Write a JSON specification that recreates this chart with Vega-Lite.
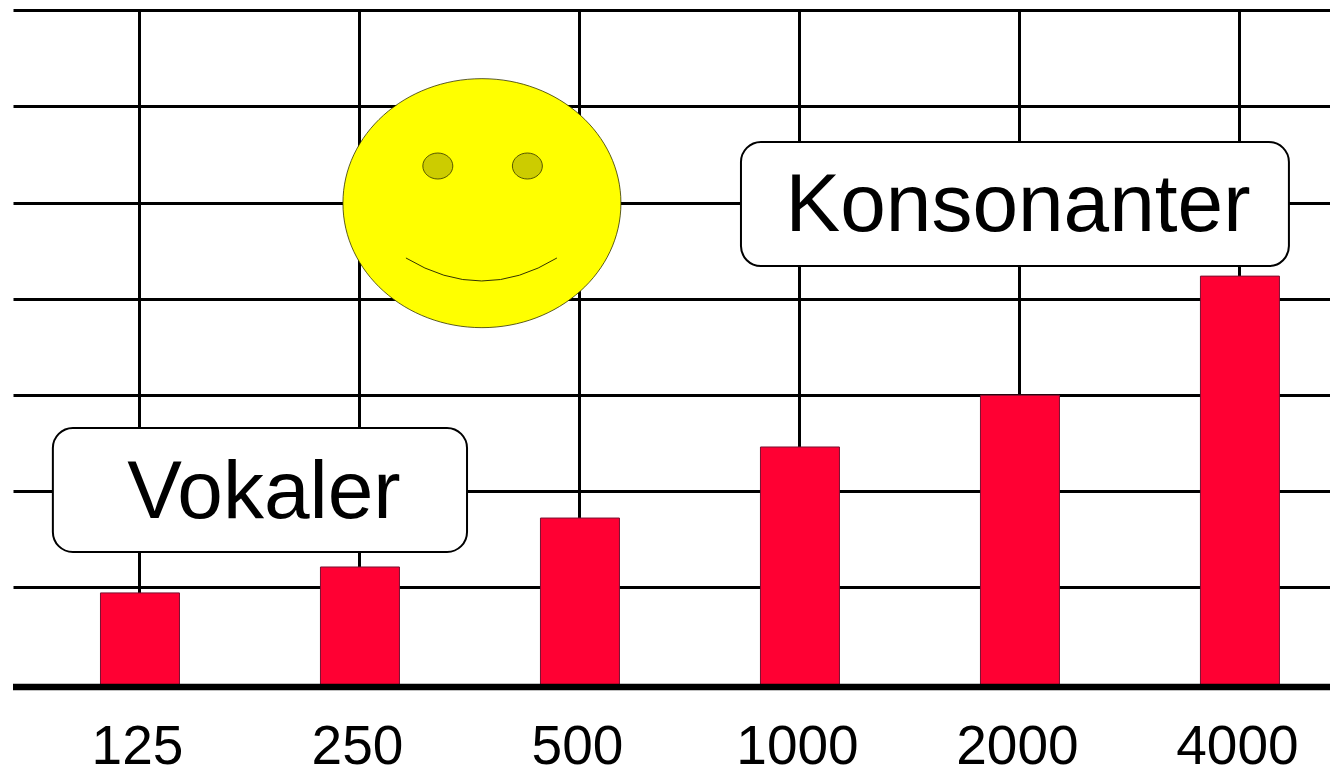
{
  "$schema": "https://vega.github.io/schema/vega-lite/v6.json",
  "width": 1317,
  "height": 677,
  "autosize": {"type": "none"},
  "padding": {"left": 13, "top": 10, "right": 0, "bottom": 85},
  "background": "white",
  "config": {"view": {"stroke": null}},
  "encoding": {
    "x": {
      "field": "freq", "type": "quantitative",
      "scale": {"type": "log", "base": 2, "domain": [84.05, 5329], "nice": false, "padding": 0},
      "axis": {
        "values": [125, 250, 500, 1000, 2000, 4000], "format": "d", "title": null,
        "grid": true, "gridColor": "#000000", "gridWidth": 3, "gridOpacity": 1,
        "ticks": false, "domain": false, "labelFont": "Liberation Sans", "labelFontSize": 55,
        "labelColor": "#000000", "labelPadding": 33, "labelOffset": -2, "labelOverlap": false, "labelBound": false, "labelFlush": false
      }
    },
    "y": {
      "field": "level", "type": "quantitative",
      "scale": {"domain": [0, 70.52], "nice": false},
      "axis": {
        "values": [10.42, 20.42, 30.42, 40.42, 50.42, 60.52, 70.52], "title": null,
        "grid": true, "gridColor": "#000000", "gridWidth": 3, "gridOpacity": 1,
        "ticks": false, "domain": false, "labels": false
      }
    }
  },
  "layer": [
    {
      "data": {"values": [
        {"freq": 125, "level": 9.8},
        {"freq": 250, "level": 12.5},
        {"freq": 500, "level": 17.6},
        {"freq": 1000, "level": 25},
        {"freq": 2000, "level": 30.4},
        {"freq": 4000, "level": 42.8}
      ]},
      "mark": {"type": "bar", "orient": "vertical", "size": 79, "xOffset": 1, "fill": "#ff0033", "stroke": "#7a1030", "strokeWidth": 1},
      "encoding": {"y": {"field": "level", "type": "quantitative", "stack": null}}
    },
    {
      "data": {"values": [{"level": 0}]},
      "mark": {"type": "rule", "color": "#000000", "strokeWidth": 6.5},
      "encoding": {"x": {"value": 0}, "x2": {"value": 1317}}
    },
    {
      "data": {"values": [
        {"label": "Vokaler", "freq": 95.3, "freq2": 351.4, "level": 26.98, "level2": 14.06},
        {"label": "Konsonanter", "freq": 833, "freq2": 4682, "level": 56.77, "level2": 43.85}
      ]},
      "mark": {"type": "rect", "fill": "#ffffff", "stroke": "#000000", "strokeWidth": 2, "cornerRadius": 20},
      "encoding": {"x2": {"field": "freq2"}, "y2": {"field": "level2"}}
    },
    {
      "data": {"values": [
        {"label": "Vokaler", "freq": 185.3, "level": 20.42},
        {"label": "Konsonanter", "freq": 1994, "level": 50.3}
      ]},
      "mark": {"type": "text", "font": "Liberation Sans", "fontSize": 82, "color": "#000000", "align": "center", "baseline": "middle", "dy": 2},
      "encoding": {"text": {"field": "label"}}
    },
    {
      "data": {"values": [{"part": "face", "freq": 368.3, "level": 50.4}]},
      "mark": {"type": "point", "filled": true, "size": 4, "fill": "#ffff00", "fillOpacity": 1, "opacity": 1, "stroke": "#333300", "strokeWidth": 0.8,
        "shape": "M-139,0 A139,124.5 0 1,0 139,0 A139,124.5 0 1,0 -139,0 Z"}
    },
    {
      "data": {"values": [
        {"part": "left eye", "freq": 320.5, "level": 54.27},
        {"part": "right eye", "freq": 425, "level": 54.27}
      ]},
      "mark": {"type": "point", "filled": true, "size": 4, "fill": "#cccc00", "fillOpacity": 1, "opacity": 1, "stroke": "#333300", "strokeWidth": 0.8,
        "shape": "M-15,0 A15,13 0 1,0 15,0 A15,13 0 1,0 -15,0 Z"}
    },
    {
      "data": {"values": [{"part": "smile", "freq": 368.3, "level": 43.44}]},
      "mark": {"type": "point", "filled": false, "size": 4, "fill": null, "opacity": 1, "stroke": "#333300", "strokeWidth": 1,
        "shape": "M-76,-12 Q0,34 75,-12"}
    }
  ]
}
